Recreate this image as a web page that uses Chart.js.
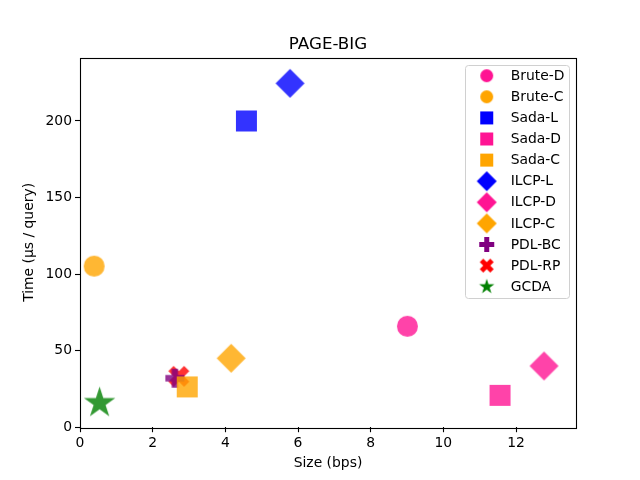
<!DOCTYPE html>
<html>
<head>
<meta charset="utf-8">
<script src="https://cdn.jsdelivr.net/npm/chart.js@4/dist/chart.umd.min.js"></script>
<style>
  html,body{margin:0;padding:0;background:#fff}
  canvas{display:block}
</style>
</head>
<body>
<canvas id="c" width="640" height="480"></canvas>
<script>
// one point per method
const METHODS=['Brute-D','Brute-C','Sada-L','Sada-D','Sada-C','ILCP-L','ILCP-D','ILCP-C','PDL-BC','PDL-RP','GCDA']
const SIZE_BPS=[9.01,0.39,4.58,11.56,2.95,5.78,12.77,4.16,2.61,2.72,0.54]
const TIME_US=[65.9,105.2,200,20.8,26.3,224.6,40,45,32,33.2,15.8]
const SHAPES=['circle','circle','square','square','square','diamond','diamond','diamond','plus','x','star']
const COLORS=['#ff1493','#ffa500','#0000ff','#ff1493','#ffa500','#0000ff','#ff1493','#ffa500','#800080','#ff0000','#008000']
const X_TICK_STEP=2,Y_TICK_STEP=50

const FONT='DejaVu Sans'
const PLOT_SZ={circle:21,square:21,diamond:29,plus:19,x:21,star:33}
const LEG_SZ={circle:13,square:13,diamond:20,plus:15,x:14,star:16}

function poly(g,pts,s){pts.forEach((p,i)=>i?g.lineTo(p[0]*s,p[1]*s):g.moveTo(p[0]*s,p[1]*s));g.closePath()}
function marker(shape,color,size,alpha){
  const dim=Math.ceil(size)+4,c=document.createElement('canvas')
  c.width=c.height=dim
  const g=c.getContext('2d'),r=size/2
  g.translate(dim/2,dim/2);g.globalAlpha=alpha;g.fillStyle=color;g.beginPath()
  if(shape==='circle')g.arc(0,0,r,0,Math.PI*2)
  else if(shape==='square')g.rect(-r,-r,size,size)
  else if(shape==='diamond')poly(g,[[0,-1],[1,0],[0,1],[-1,0]],r)
  else if(shape==='plus')poly(g,[[-1,-3],[-1,-1],[-3,-1],[-3,1],[-1,1],[-1,3],[1,3],[1,1],[3,1],[3,-1],[1,-1],[1,-3]],size/6)
  else if(shape==='x')poly(g,[[-1,-2],[0,-1],[1,-2],[2,-1],[1,0],[2,1],[1,2],[0,1],[-1,2],[-2,1],[-1,0],[-2,-1]],size/4)
  else if(shape==='star'){
    const pts=[]
    for(let i=0;i<10;i++){const a=-Math.PI/2+i*Math.PI/5,rr=i%2?0.381966:1;pts.push([Math.cos(a)*rr,Math.sin(a)*rr])}
    poly(g,pts,r)
  }
  g.fill()
  return c
}

const legendImgs=SHAPES.map((s,i)=>marker(s,COLORS[i],LEG_SZ[s],1))

const frame={
  id:'frame',
  afterDraw(ch){
    const ctx=ch.ctx,a=ch.chartArea
    ctx.save()
    ctx.strokeStyle='#000';ctx.lineWidth=1.1
    ctx.strokeRect(Math.round(a.left)+0.5,Math.round(a.top)+0.5,Math.round(a.right-a.left),Math.round(a.bottom-a.top))
    ctx.fillStyle='#000';ctx.font='16.7px '+FONT;ctx.textAlign='center';ctx.textBaseline='alphabetic'
    ctx.fillText('PAGE-BIG',(a.left+a.right)/2,a.top-8.5)
    // legend box
    const bx=465,by=65,bw=104,bh=233
    ctx.beginPath();ctx.roundRect(bx+0.5,by+0.5,bw,bh,3)
    ctx.fillStyle='rgba(255,255,255,0.8)';ctx.fill()
    ctx.strokeStyle='#d0d0d0';ctx.lineWidth=1;ctx.stroke()
    ctx.font='13.9px '+FONT;ctx.textAlign='left';ctx.textBaseline='middle';ctx.fillStyle='#000'
    METHODS.forEach((m,i)=>{
      const y=75.7+i*21.1,img=legendImgs[i]
      ctx.drawImage(img,486.7-img.width/2,y-img.height/2)
      ctx.fillText(m,510.7,y+0.5)
    })
    ctx.restore()
  }
}

const tickFont={family:FONT,size:13.9}
new Chart(document.getElementById('c'),{
  type:'scatter',
  data:{datasets:METHODS.map((m,i)=>({
    label:m,
    data:[{x:SIZE_BPS[i],y:TIME_US[i]}],
    pointStyle:marker(SHAPES[i],COLORS[i],PLOT_SZ[SHAPES[i]],0.8),
    backgroundColor:COLORS[i],borderColor:COLORS[i]
  }))},
  options:{
    responsive:false,animation:false,devicePixelRatio:1,
    layout:{padding:{left:0,right:64,top:57.6,bottom:0}},
    plugins:{legend:{display:false},title:{display:false},tooltip:{enabled:false}},
    scales:{
      x:{type:'linear',min:0,max:13.65,
        ticks:{stepSize:X_TICK_STEP,includeBounds:false,color:'#000',font:tickFont,padding:3,maxRotation:0},
        grid:{drawOnChartArea:false,drawTicks:true,tickLength:5,tickColor:'#000',tickWidth:1.1},
        border:{display:false},
        title:{display:true,text:'Size (bps)',color:'#000',font:tickFont,padding:{top:0,bottom:8.6}},
        afterFit(s){s.height=52.8}},
      y:{type:'linear',min:0,max:241.4,
        ticks:{stepSize:Y_TICK_STEP,includeBounds:false,color:'#000',font:tickFont,padding:3},
        grid:{drawOnChartArea:false,drawTicks:true,tickLength:5,tickColor:'#000',tickWidth:1.1},
        border:{display:false},
        title:{display:true,text:'Time (µs / query)',color:'#000',font:tickFont,padding:{top:21,bottom:0}},
        afterFit(s){s.width=80}}
    }
  },
  plugins:[frame]
})
</script>
</body>
</html>
